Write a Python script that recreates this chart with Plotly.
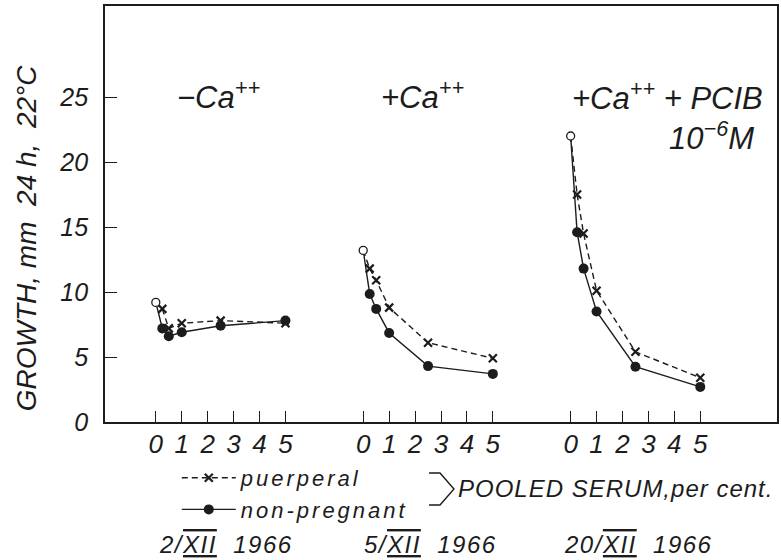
import plotly.graph_objects as go

# ---------------- data ----------------
conc = [0.25, 0.5, 1, 2.5, 5]          # pooled serum, per cent
tick_labels = ["0", "1", "2", "3", "4", "5"]
tick_values = [0, 1, 2, 3, 4, 5]
panel_offset = 8                        # spacing between the three groups on the shared axis

titles = ["−Ca<sup>++</sup>", "+Ca<sup>++</sup>", "+Ca<sup>++</sup> + PCIB"]
dates = ["2/XII 1966", "5/XII 1966", "20/XII 1966"]

control = [9.2, 13.2, 22.0]             # 0 % serum (open circle)
puerperal_a = [8.7, 7.2, 7.6, 7.8, 7.6]
puerperal_b = [11.8, 10.9, 8.8, 6.1, 4.9]
puerperal_c = [17.5, 14.5, 10.1, 5.4, 3.4]
nonpreg_a = [7.2, 6.6, 6.9, 7.4, 7.8]
nonpreg_b = [9.85, 8.7, 6.85, 4.3, 3.7]
nonpreg_c = [14.6, 11.8, 8.5, 4.25, 2.7]

puerperal = [puerperal_a, puerperal_b, puerperal_c]
nonpreg = [nonpreg_a, nonpreg_b, nonpreg_c]

# ---------------- style ----------------
INK = "#1c1c1c"
FONT = "Liberation Sans"
W, H = 781, 560
ML, MR, MT, MB = 105, 2, 6, 138
PW, PH = W - ML - MR, H - MT - MB


def px(x):
    return (x - ML) / PW


def py(y):
    return (H - MB - y) / PH


fig = go.Figure()

for i in range(3):
    off = i * panel_offset
    xs = [c + off for c in conc]
    # connectors from control point to first serum point
    fig.add_trace(go.Scatter(x=[off, xs[0]], y=[control[i], puerperal[i][0]], mode="lines",
                             line=dict(color=INK, width=1.4, dash="6px,4px"),
                             showlegend=False, hoverinfo="skip"))
    fig.add_trace(go.Scatter(x=[off, xs[0]], y=[control[i], nonpreg[i][0]], mode="lines",
                             line=dict(color=INK, width=1.4),
                             showlegend=False, hoverinfo="skip"))
    fig.add_trace(go.Scatter(
        x=xs, y=puerperal[i], mode="lines+markers",
        name='<span style="letter-spacing:3px">puerperal</span>',
        legendgroup="p", showlegend=(i == 0),
        line=dict(color=INK, width=1.4, dash="6px,4px"),
        marker=dict(symbol="x-thin-open", size=8, color=INK, line=dict(color=INK, width=2.2))))
    fig.add_trace(go.Scatter(
        x=xs, y=nonpreg[i], mode="lines+markers",
        name='<span style="letter-spacing:3px">non-pregnant</span>',
        legendgroup="n", showlegend=(i == 0),
        line=dict(color=INK, width=1.4),
        marker=dict(symbol="circle", size=10, color=INK)))
    fig.add_trace(go.Scatter(
        x=[off], y=[control[i]], mode="markers", showlegend=False,
        marker=dict(symbol="circle", size=8, color="white", line=dict(color=INK, width=1.3))))

tickvals = [v + i * panel_offset for i in range(3) for v in tick_values]
ticktext = tick_labels * 3

fig.update_xaxes(range=[-1.96, 23.96], tickvals=tickvals, ticktext=ticktext,
                 ticks="inside", ticklen=11, tickwidth=1.3, tickcolor=INK,
                 showline=True, linecolor=INK, linewidth=1.8, mirror=True,
                 showgrid=False, zeroline=False, ticklabelstandoff=-2,
                 tickfont=dict(family=FONT, size=26, color=INK, style="italic"))
fig.update_yaxes(range=[0, 32], tickvals=[0, 5, 10, 15, 20, 25],
                 ticks="inside", ticklen=12, tickwidth=1.3, tickcolor=INK,
                 showline=True, linecolor=INK, linewidth=1.8, mirror=True,
                 showgrid=False, zeroline=False, ticklabelstandoff=10,
                 tickfont=dict(family=FONT, size=25, color=INK, style="italic"))

ann = []
tfont = dict(family=FONT, size=31, color=INK, style="italic")
ann.append(dict(text=titles[0], x=px(175), y=py(95), xanchor="left", yanchor="middle", font=tfont))
ann.append(dict(text=titles[1], x=px(380), y=py(95), xanchor="left", yanchor="middle", font=tfont))
ann.append(dict(text=titles[2], x=px(767), y=py(96), xanchor="right", yanchor="middle", font=tfont))
ann.append(dict(text="10<sup>−6</sup>M", x=px(758), y=py(136), xanchor="right", yanchor="middle", font=tfont))

# y axis title
ann.append(dict(text="GROWTH, mm\u00a0 24 h,\u00a0 22°C", x=px(26), y=py(238), textangle=-90,
                xanchor="center", yanchor="middle",
                font=dict(family=FONT, size=28, color=INK, style="italic")))

# pooled serum label
ann.append(dict(text='<span style="letter-spacing:1px">POOLED SERUM,per cent.</span>',
                x=px(457), y=py(488), xanchor="left", yanchor="middle",
                font=dict(family=FONT, size=24, color=INK, style="italic")))

# dates
dfont = dict(family=FONT, size=24, color=INK, style="italic")
date_x = [157, 363, 563]
for d, x0 in zip(dates, date_x):
    day, rest = d.split("/")
    month, year = rest.split(" ")
    txt = ('<span style="letter-spacing:1.5px">' + day + '/<span style="text-decoration:underline overline">'
           + month + '</span>\u00a0 ' + year + '</span>')
    ann.append(dict(text=txt, x=px(x0), y=py(544), xanchor="left", yanchor="middle", font=dfont))

for a in ann:
    a.update(xref="paper", yref="paper", showarrow=False)

fig.update_layout(
    width=W, height=H, margin=dict(l=ML, r=MR, t=MT, b=MB),
    paper_bgcolor="white", plot_bgcolor="white",
    annotations=ann,
    shapes=[dict(type="path", xref="paper", yref="paper",
                 path=f"M {px(430)},{py(473)} L {px(441)},{py(473)} L {px(455)},{py(489)} "
                      f"L {px(441)},{py(505)} L {px(430)},{py(505)}",
                 line=dict(color=INK, width=1.4))],
    legend=dict(x=px(177), y=py(457), xanchor="left", yanchor="top",
                bgcolor="rgba(0,0,0,0)", borderwidth=0, itemwidth=54, tracegroupgap=0,
                font=dict(family=FONT, size=22, color=INK, style="italic")),
    showlegend=True,
)

fig.write_html("out.html")
